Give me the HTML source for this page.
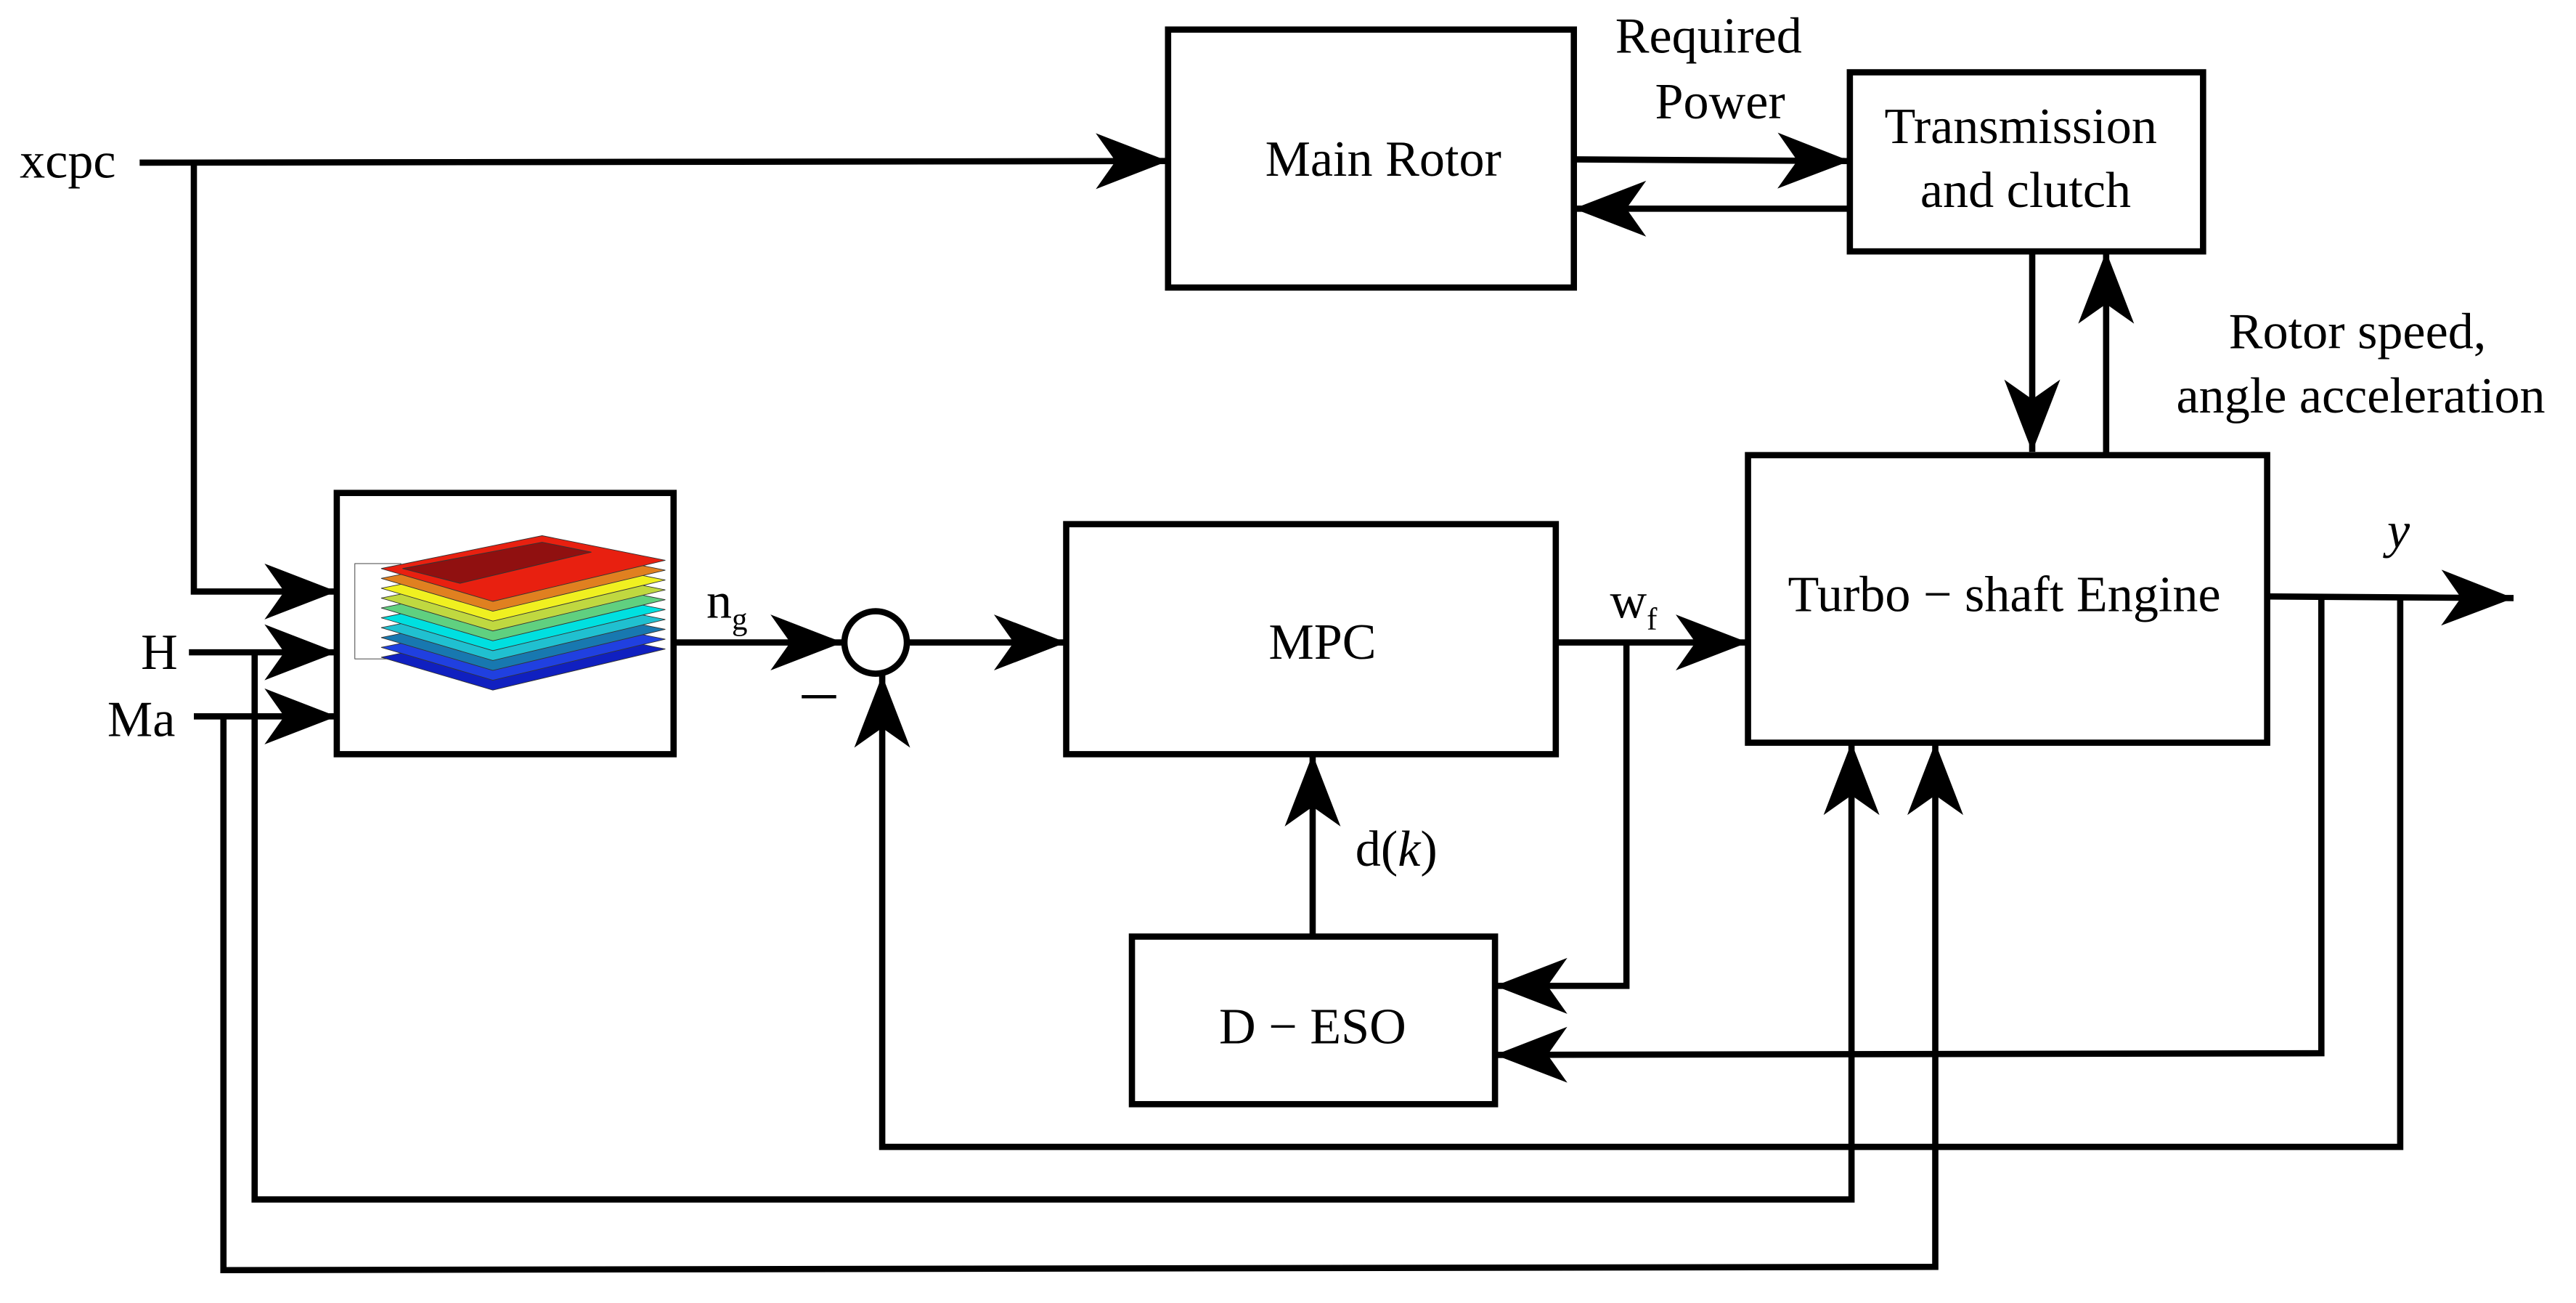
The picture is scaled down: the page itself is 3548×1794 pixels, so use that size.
<!DOCTYPE html>
<html><head><meta charset="utf-8"><style>
html,body{margin:0;padding:0;background:#fff;}
svg{display:block;}
</style></head><body>
<svg width="3548" height="1794" viewBox="0 0 1568 793" preserveAspectRatio="none" xmlns="http://www.w3.org/2000/svg">
<defs>
<marker id="a" markerUnits="userSpaceOnUse" markerWidth="60" markerHeight="40" refX="0" refY="0" viewBox="-45 -20 50 40" orient="auto" overflow="visible">
<path d="M0,0 L-44,-17 L-32,0 L-44,17 z" fill="#000"/>
</marker>
</defs>
<g fill="none" stroke="#000" stroke-width="3.8" stroke-linejoin="miter">
<rect x="711" y="18" width="247" height="157"/>
<rect x="1126" y="44" width="215" height="109"/>
<rect x="1064" y="277" width="316" height="175"/>
<rect x="649" y="319" width="298" height="140"/>
<rect x="689" y="570" width="221" height="102"/>
<rect x="205" y="300" width="205" height="159"/>
<circle cx="533" cy="391" r="19"/>
<path d="M85,99 L711,98" marker-end="url(#a)"/>
<path d="M118,99 L118,360 L205,360" marker-end="url(#a)"/>
<path d="M115,397 L205,397" marker-end="url(#a)"/>
<path d="M118,436 L205,436" marker-end="url(#a)"/>
<path d="M958,97 L1126,98" marker-end="url(#a)"/>
<path d="M1126,127 L958,127" marker-end="url(#a)"/>
<path d="M1237,153 L1237,275" marker-end="url(#a)"/>
<path d="M1282,277 L1282,153" marker-end="url(#a)"/>
<path d="M410,391 L513,391" marker-end="url(#a)"/>
<path d="M552,391 L649,391" marker-end="url(#a)"/>
<path d="M947,391 L1064,391" marker-end="url(#a)"/>
<path d="M990,391 L990,600 L910,600" marker-end="url(#a)"/>
<path d="M799,570 L799,459" marker-end="url(#a)"/>
<path d="M1380,363 L1530,364" marker-end="url(#a)"/>
<path d="M1413,363 L1413,641 L910,642" marker-end="url(#a)"/>
<path d="M1461,364 L1461,698 L537,698 L537,411" marker-end="url(#a)"/>
<path d="M155,397 L155,730 L1127,730 L1127,452" marker-end="url(#a)"/>
<path d="M136,436 L136,773 L1178,771 L1178,452" marker-end="url(#a)"/>
<path d="M488,424 L509,424" stroke-width="2"/>
</g>
<g stroke="#333" stroke-width="0.4">
<rect x="216" y="343" width="28" height="58" fill="#fff"/>
<polygon points="232,400 330,380 405,395 300,420" fill="#1020c0"/>
<polygon points="232,394 330,374 405,389 300,414" fill="#2040e0"/>
<polygon points="232,388 330,368 405,383 300,408" fill="#1878b0"/>
<polygon points="232,382 330,362 405,377 300,402" fill="#20c0d0"/>
<polygon points="232,376 330,356 405,371 300,396" fill="#00e0e0"/>
<polygon points="232,370 330,350 405,365 300,390" fill="#60d080"/>
<polygon points="232,364 330,344 405,359 300,384" fill="#c0d840"/>
<polygon points="232,358 330,338 405,353 300,378" fill="#f0f020"/>
<polygon points="232,352 330,332 405,347 300,372" fill="#e08020"/>
<polygon points="232,346 330,326 405,341 300,366" fill="#e82010"/>
<polygon points="245,346 330,330 360,336 280,355" fill="#901010"/>
</g>
<g font-family="Liberation Serif, serif" font-size="31" fill="#000">
<text x="12" y="108">xcpc</text>
<text x="842" y="107" text-anchor="middle">Main Rotor</text>
<text x="1040" y="32" text-anchor="middle">Required</text>
<text x="1047" y="72" text-anchor="middle">Power</text>
<text x="1230" y="87" text-anchor="middle">Transmission</text>
<text x="1233" y="126" text-anchor="middle">and clutch</text>
<text x="1435" y="212" text-anchor="middle">Rotor speed,</text>
<text x="1437" y="251" text-anchor="middle">angle acceleration</text>
<text x="1220" y="372" text-anchor="middle">Turbo − shaft Engine</text>
<text x="1460" y="333" text-anchor="middle" font-style="italic">y</text>
<text x="97" y="407" text-anchor="middle">H</text>
<text x="86" y="448" text-anchor="middle">Ma</text>
<text x="805" y="401" text-anchor="middle">MPC</text>
<text x="799" y="635" text-anchor="middle">D − ESO</text>
<text x="825" y="527">d(<tspan font-style="italic">k</tspan>)</text>
<text x="430" y="376">n<tspan font-size="19" dy="7">g</tspan></text>
<text x="980" y="376">w<tspan font-size="19" dy="7">f</tspan></text>
</g>
</svg>
</body></html>
